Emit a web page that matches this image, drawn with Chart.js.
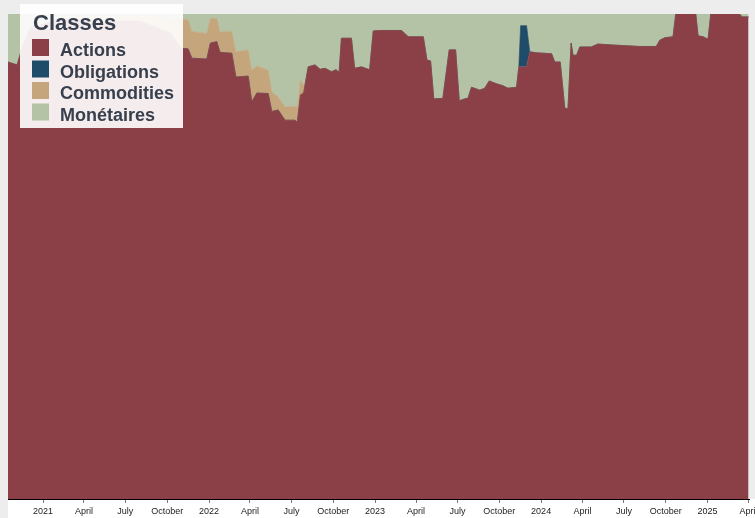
<!DOCTYPE html>
<html>
<head>
<meta charset="utf-8">
<script src="https://cdn.jsdelivr.net/npm/chart.js@4"></script>
<style>
  html, body { margin: 0; padding: 0; background: #ededed; }
  canvas { display: block; }
</style>
</head>
<body>
<canvas id="graphique" width="755" height="518"></canvas>
<script>
// dates des points (une par relevé)
const dates = [
  '2020-10-16', '2020-11-05', '2020-11-16', '2020-12-03', '2021-02-07', '2021-05-06', '2021-08-02', '2021-10-08', '2021-10-31', '2021-11-05',
  '2021-11-16', '2021-11-24', '2021-12-27', '2022-01-04', '2022-01-18', '2022-01-25', '2022-02-20', '2022-03-01', '2022-03-28', '2022-04-05',
  '2022-04-16', '2022-05-11', '2022-05-19', '2022-06-02', '2022-06-17', '2022-07-09', '2022-07-14', '2022-07-21', '2022-07-28', '2022-08-07',
  '2022-08-22', '2022-09-02', '2022-09-13', '2022-09-27', '2022-10-07', '2022-10-14', '2022-10-19', '2022-11-10', '2022-11-17', '2022-12-02',
  '2022-12-20', '2022-12-28', '2023-01-11', '2023-02-28', '2023-03-15', '2023-04-17', '2023-04-25', '2023-05-03', '2023-05-10', '2023-05-30',
  '2023-06-13', '2023-06-27', '2023-07-05', '2023-07-17', '2023-07-24', '2023-08-01', '2023-08-19', '2023-08-30', '2023-09-09', '2023-09-25',
  '2023-10-09', '2023-10-20', '2023-11-08', '2023-11-13', '2023-11-17', '2023-11-30', '2023-12-07', '2023-12-22', '2024-01-24', '2024-01-31',
  '2024-02-12', '2024-02-22', '2024-02-29', '2024-03-07', '2024-03-11', '2024-03-19', '2024-03-26', '2024-04-20', '2024-05-05', '2024-06-07',
  '2024-08-05', '2024-09-10', '2024-09-18', '2024-09-29', '2024-10-17', '2024-10-23', '2024-12-06', '2024-12-11', '2024-12-22', '2025-01-02',
  '2025-01-08', '2025-03-12', '2025-03-18', '2025-04-01'
];

// part de chaque classe en %
const actions = [
  90.1, 89.5, 93, 97, 99, 98.5, 98.5, 96, 93, 92.9,
  92.8, 90.9, 90.7, 94.0, 94.3, 92.1, 91.9, 87.0, 87.2, 81.9,
  83.7, 83.6, 79.9, 80.2, 78.1, 78.1, 77.7, 83.3, 83.7, 89.1,
  89.5, 88.6, 88.8, 88.1, 88.5, 88.0, 95.0, 95.0, 88.8, 89.1,
  88.5, 96.5, 96.6, 96.6, 95.3, 95.3, 90.5, 90.3, 82.5, 82.6,
  92.6, 92.6, 82.1, 82.5, 82.6, 84.9, 84.3, 84.7, 86.2, 85.6,
  85.2, 84.7, 84.9, 89.1, 89.1, 89.1, 92.2, 92.0, 91.8, 90.1,
  90.1, 80.6, 80.4, 94.0, 91.5, 91.5, 93.2, 93.2, 93.8, 93.6,
  93.3, 93.3, 94.6, 95.1, 95.3, 100, 100, 95.5, 95.3, 94.8,
  100, 100, 99.4, 99.4
];
const obligations = [
  0, 0, 0, 0, 0, 0, 0, 0, 0, 0,
  0, 0, 0, 0, 0, 0, 0, 0, 0, 0,
  0, 0, 0, 0, 0, 0, 0, 0, 0, 0,
  0, 0, 0, 0, 0, 0, 0, 0, 0, 0,
  0, 0, 0, 0, 0, 0, 0, 0, 0, 0,
  0, 0, 0, 0, 0, 0, 0, 0, 0, 0,
  0, 0, 0, 0, 8.5, 8.5, 0, 0, 0, 0,
  0, 0, 0, 0, 0, 0, 0, 0, 0, 0,
  0, 0, 0, 0, 0, 0, 0, 0, 0, 0,
  0, 0, 0, 0
];
const commodities = [
  0, 0, 0, 0, 0, 1, 1, 3, 6, 6.0,
  6.0, 5.5, 5.3, 5.1, 4.8, 4.2, 4.5, 5.2, 5.4, 6.5,
  5.6, 4.8, 4.0, 2.7, 2.7, 2.9, 3.1, 3.1, 1.5, 0,
  0, 0, 0, 0, 0, 0, 0, 0, 0, 0,
  0, 0, 0, 0, 0, 0, 0, 0, 0, 0,
  0, 0, 0, 0, 0, 0, 0, 0, 0, 0,
  0, 0, 0, 0, 0, 0, 0, 0, 0, 0,
  0, 0, 0, 0, 0, 0, 0, 0, 0, 0,
  0, 0, 0, 0, 0, 0, 0, 0, 0, 0,
  0, 0, 0, 0
];
const monetaires = [
  9.9, 10.5, 7, 3, 1, 0.5, 0.5, 1, 1, 1.1,
  1.2, 3.6, 4.0, 0.9, 0.9, 3.7, 3.6, 7.8, 7.4, 11.6,
  10.7, 11.6, 16.1, 17.1, 19.2, 19.0, 19.2, 13.6, 14.8, 10.9,
  10.5, 11.4, 11.2, 11.9, 11.5, 12.0, 5.0, 5.0, 11.2, 10.9,
  11.5, 3.5, 3.4, 3.4, 4.7, 4.7, 9.5, 9.7, 17.5, 17.4,
  7.4, 7.4, 17.9, 17.5, 17.4, 15.1, 15.7, 15.3, 13.8, 14.4,
  14.8, 15.3, 15.1, 10.9, 2.4, 2.4, 7.8, 8.0, 8.2, 9.9,
  9.9, 19.4, 19.6, 6.0, 8.5, 8.5, 6.8, 6.8, 6.2, 6.4,
  6.7, 6.7, 5.4, 4.9, 4.7, 0, 0, 4.5, 4.7, 5.2,
  0, 0, 0.6, 0.6
];

// graduations de l'axe du temps
const tickDates = [
  '2021-01-01', '2021-04-01', '2021-07-01', '2021-10-01',
  '2022-01-01', '2022-04-01', '2022-07-01', '2022-10-01',
  '2023-01-01', '2023-04-01', '2023-07-01', '2023-10-01',
  '2024-01-01', '2024-04-01', '2024-07-01', '2024-10-01',
  '2025-01-01', '2025-04-01'
];
const tickLabels = [
  '2021', 'April', 'July', 'October',
  '2022', 'April', 'July', 'October',
  '2023', 'April', 'July', 'October',
  '2024', 'April', 'July', 'October',
  '2025', 'April'
];

const classes = ['Actions', 'Obligations', 'Commodities', 'Monétaires'];
const couleurs = ['#8b4047', '#1f4c69', '#c5a67c', '#b4c3a6'];

// jours depuis le 1er janvier 2021
function jour(d) {
  const [a, m, j] = d.split('-').map(Number);
  return (Date.UTC(a, m - 1, j) - Date.UTC(2021, 0, 1)) / 86400000;
}

const series = [actions, obligations, commodities, monetaires];
const datasets = classes.map((nom, i) => ({
  label: nom,
  data: dates.map((d, k) => ({ x: jour(d), y: series[i][k] })),
  backgroundColor: couleurs[i],
  borderColor: couleurs[i],
  borderWidth: 0.6,
  pointRadius: 0,
  tension: 0,
  fill: i === 0 ? 'origin' : '-1'
}));

const fond = {
  id: 'fond',
  beforeDraw(chart) {
    const ctx = chart.ctx;
    ctx.save();
    ctx.fillStyle = '#ededed';
    ctx.fillRect(0, 0, chart.width, chart.height);
    ctx.fillStyle = '#ffffff';
    ctx.fillRect(chart.chartArea.left, chart.chartArea.bottom, chart.width - chart.chartArea.left, chart.height - chart.chartArea.bottom);
    ctx.restore();
  }
};

const legende = {
  id: 'legende',
  afterDraw(chart) {
    const ctx = chart.ctx;
    ctx.save();
    ctx.fillStyle = 'rgba(255,255,255,0.9)';
    ctx.fillRect(20, 4, 163, 124);
    ctx.fillStyle = '#38404e';
    ctx.textBaseline = 'alphabetic';
    ctx.font = 'bold 22px "Liberation Sans", Arial, sans-serif';
    ctx.fillText('Classes', 33, 29.5);
    ctx.font = 'bold 18px "Liberation Sans", Arial, sans-serif';
    classes.forEach((nom, i) => {
      const y = 39 + i * 21.5;
      ctx.fillStyle = couleurs[i];
      ctx.fillRect(32, y, 17, 17);
      ctx.fillStyle = '#38404e';
      ctx.fillText(nom, 60, y + 17);
    });
    ctx.restore();
  }
};

new Chart(document.getElementById('graphique'), {
  type: 'line',
  data: { datasets: datasets },
  options: {
    responsive: false,
    animation: false,
    devicePixelRatio: 1,
    layout: { padding: { left: 8, top: 14, right: 6, bottom: 0 } },
    plugins: { legend: { display: false }, tooltip: { enabled: false } },
    scales: {
      x: {
        type: 'linear',
        min: -77,
        max: 1552,
        afterBuildTicks: (scale) => { scale.ticks = tickDates.map(d => ({ value: jour(d) })); },
        afterFit: (scale) => { scale.height = 19; scale.paddingLeft = 0; scale.paddingRight = 0; },
        grid: { drawOnChartArea: false, tickLength: 4, color: '#7a7a7a' },
        border: { display: true, color: '#000000', width: 1 },
        ticks: {
          autoSkip: false,
          maxRotation: 0,
          padding: 3,
          color: '#222222',
          font: { family: '"Liberation Sans", Arial, sans-serif', size: 9 },
          callback: (v, i) => tickLabels[i]
        }
      },
      y: { stacked: true, min: 0, max: 100, display: false }
    }
  },
  plugins: [fond, legende]
});
</script>
</body>
</html>
